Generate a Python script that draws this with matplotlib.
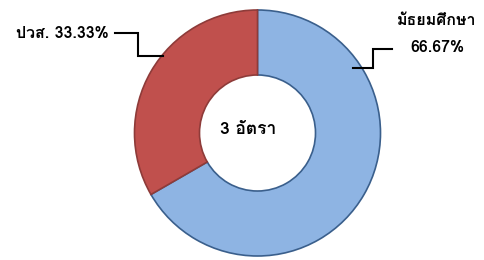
import matplotlib
matplotlib.use("Agg")
import matplotlib.pyplot as plt

# data
categories = ["มัธยมศึกษา", "ปวส."]
values = [66.67, 33.33]
label_text = ["มัธยมศึกษา\n66.67%", "ปวส. 33.33%"]
center_text = "3 อัตรา"
colors = ["#8EB4E3", "#C0504D"]
edges = ["#3A5F8C", "#8E3B39"]

W, H = 484, 260
font = ["Loma", "DejaVu Sans"]

fig = plt.figure(figsize=(W / 100, H / 100), dpi=100)
ax = fig.add_axes([0, 0, 1, 1])
ax.set_xlim(0, W)
ax.set_ylim(0, H)
ax.set_aspect("equal")
ax.axis("off")

cx, cy, r = 257.5, H - 133, 123
wedges, _ = ax.pie(values, center=(cx, cy), radius=r, startangle=90,
                   counterclock=False, colors=colors,
                   wedgeprops=dict(width=r - 58, linewidth=1.2))
for w, ec in zip(wedges, edges):
    w.set_edgecolor(ec)
ax.set_xlim(0, W)
ax.set_ylim(0, H)

# leader lines (pixel layout)
def px(pts):
    return [p[0] for p in pts], [H - p[1] for p in pts]

xs, ys = px([(115, 33), (138, 33), (138, 56), (163, 56)])
ax.plot(xs, ys, color="black", lw=1.5, solid_joinstyle="miter")
xs, ys = px([(353, 68), (373, 68), (373, 49), (392, 49)])
ax.plot(xs, ys, color="black", lw=1.5, solid_joinstyle="miter")

ax.text(109, H - 33, label_text[1], ha="right", va="center",
        fontsize=11.5, family=font, fontweight="bold")
ax.text(437, H - 34, label_text[0], ha="center", va="center",
        fontsize=11.5, family=font, fontweight="bold", linespacing=2.0)
ax.text(248, H - 129, center_text, ha="center", va="center",
        fontsize=12.5, family=font, fontweight="bold")

fig.savefig("out.png", dpi=100)
